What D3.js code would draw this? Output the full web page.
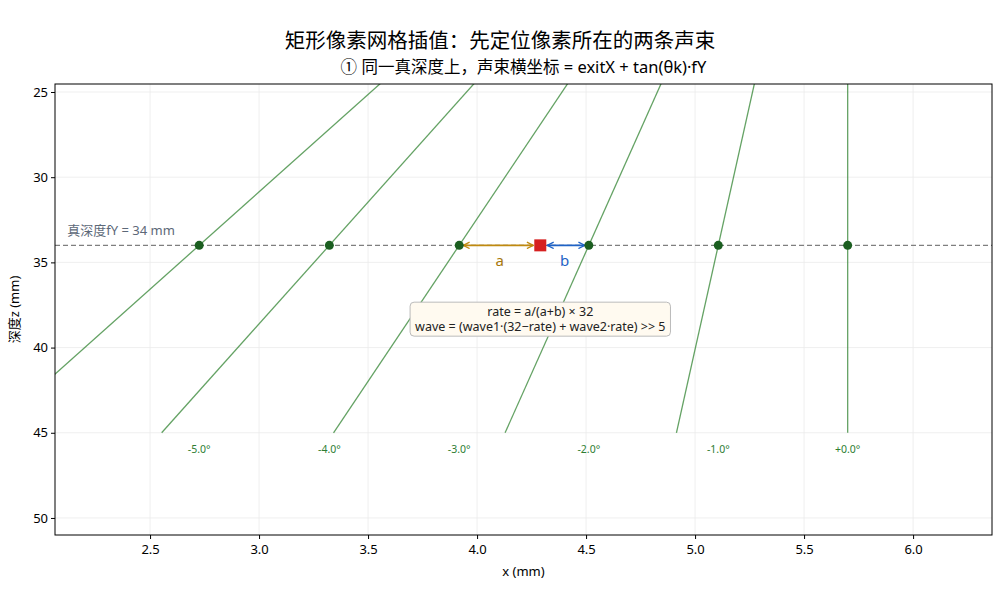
<!DOCTYPE html>
<html>
<head>
<meta charset="utf-8">
<script src="https://cdn.jsdelivr.net/npm/d3@7"></script>
<style>
  body { margin: 0; background: #fff; }
  svg { font-family: "Noto Sans", "Noto Sans CJK SC", sans-serif; }
</style>
</head>
<body>
<svg id="chart"></svg>
<script>
var width = 1000;
var height = 610;

// beam angles (deg) and geometry
var angles = [-5, -4, -3, -2, -1, 0];
var angleLabels = ["-5.0°", "-4.0°", "-3.0°", "-2.0°", "-1.0°", "+0.0°"];
var exitX = 5.7;
var beamZ = [0, 45];
var fY = 34;
var pixelX = 4.29;
var labelZ = 46;
var xTicks = [2.5, 3.0, 3.5, 4.0, 4.5, 5.0, 5.5, 6.0];
var yTicks = [25, 30, 35, 40, 45, 50];
var xDomain = [2.064, 6.362];
var yDomain = [24.53, 51.0];
var boxLines = ["rate = a/(a+b) × 32", "wave = (wave1·(32−rate) + wave2·rate) >> 5"];
var boxPos = [4.29, 38.4];

var margin = { top: 84, right: 8, bottom: 75, left: 55 };

const svg = d3.select('#chart')
    .attr('width', width)
    .attr('height', height);

const x = d3.scaleLinear().domain(xDomain).range([margin.left, width - margin.right]);
const y = d3.scaleLinear().domain(yDomain).range([margin.top, height - margin.bottom]);

function beamX(deg, z) {
    return exitX + Math.tan(deg * Math.PI / 180) * z;
}

svg.append("defs").append("clipPath").attr("id", "clip")
    .append("rect")
    .attr("x", margin.left).attr("y", margin.top)
    .attr("width", width - margin.left - margin.right)
    .attr("height", height - margin.top - margin.bottom);

var defs = svg.select("defs");
function marker(id, color, orient) {
    defs.append("marker")
        .attr("id", id)
        .attr("viewBox", "0 0 10 10")
        .attr("refX", 9).attr("refY", 5)
        .attr("markerWidth", 8).attr("markerHeight", 8)
        .attr("markerUnits", "userSpaceOnUse")
        .attr("orient", orient)
        .append("path")
        .attr("d", "M1,1 L9,5 L1,9")
        .attr("fill", "none")
        .attr("stroke", color)
        .attr("stroke-width", 1.6);
}
marker("arrGold", "#c08a10", "auto-start-reverse");
marker("arrBlue", "#1f63c6", "auto-start-reverse");

// grid
svg.append("g").selectAll("line").data(xTicks).join("line")
    .attr("x1", d => x(d)).attr("x2", d => x(d))
    .attr("y1", margin.top).attr("y2", height - margin.bottom)
    .attr("stroke", "#ebebeb").attr("stroke-width", 0.8);
svg.append("g").selectAll("line").data(yTicks).join("line")
    .attr("y1", d => y(d)).attr("y2", d => y(d))
    .attr("x1", margin.left).attr("x2", width - margin.right)
    .attr("stroke", "#ebebeb").attr("stroke-width", 0.8);

const plot = svg.append("g").attr("clip-path", "url(#clip)");

// beams
plot.selectAll(".beam").data(angles).join("line")
    .attr("class", "beam")
    .attr("x1", d => x(beamX(d, beamZ[0])))
    .attr("y1", y(beamZ[0]))
    .attr("x2", d => x(beamX(d, beamZ[1])))
    .attr("y2", y(beamZ[1]))
    .attr("stroke", "#3d8b3d")
    .attr("stroke-opacity", 0.8)
    .attr("stroke-width", 1.3);

// depth line
plot.append("line")
    .attr("x1", margin.left).attr("x2", width - margin.right)
    .attr("y1", y(fY)).attr("y2", y(fY))
    .attr("stroke", "#7f7f7f")
    .attr("stroke-width", 1.2)
    .attr("stroke-dasharray", "5,3");

plot.append("text")
    .attr("x", x(2.12)).attr("y", y(33.2))
    .attr("dominant-baseline", "middle")
    .attr("font-size", 13)
    .attr("fill", "#5c6878")
    .text("真深度fY = " + fY + " mm");

// arrows a, b
var leftX = beamX(-3, fY), rightX = beamX(-2, fY);
plot.append("line")
    .attr("x1", x(leftX) + 4).attr("x2", x(pixelX) - 7)
    .attr("y1", y(fY)).attr("y2", y(fY))
    .attr("stroke", "#c08a10").attr("stroke-width", 1.6)
    .attr("marker-start", "url(#arrGold)").attr("marker-end", "url(#arrGold)");
plot.append("line")
    .attr("x1", x(pixelX) + 7).attr("x2", x(rightX) - 4)
    .attr("y1", y(fY)).attr("y2", y(fY))
    .attr("stroke", "#1f63c6").attr("stroke-width", 1.6)
    .attr("marker-start", "url(#arrBlue)").attr("marker-end", "url(#arrBlue)");
plot.append("text")
    .attr("x", x((leftX + pixelX) / 2)).attr("y", y(35.0))
    .attr("text-anchor", "middle").attr("dominant-baseline", "middle")
    .attr("font-size", 15).attr("fill", "#a7780c").text("a");
plot.append("text")
    .attr("x", x((rightX + pixelX) / 2)).attr("y", y(35.0))
    .attr("text-anchor", "middle").attr("dominant-baseline", "middle")
    .attr("font-size", 15).attr("fill", "#1f63c6").text("b");

// beam points
plot.selectAll(".pt").data(angles).join("circle")
    .attr("class", "pt")
    .attr("cx", d => x(beamX(d, fY)))
    .attr("cy", y(fY))
    .attr("r", 4.5)
    .attr("fill", "#1b5e20");

// pixel
plot.append("rect")
    .attr("x", x(pixelX) - 6).attr("y", y(fY) - 6)
    .attr("width", 12).attr("height", 12)
    .attr("fill", "#d62020");

// angle labels
plot.selectAll(".albl").data(angles).join("text")
    .attr("class", "albl")
    .attr("x", d => x(beamX(d, fY)))
    .attr("y", y(labelZ))
    .attr("text-anchor", "middle").attr("dominant-baseline", "middle")
    .attr("font-size", 10.5)
    .attr("fill", "#2e7d32")
    .text((d, i) => angleLabels[i]);

// formula box
const box = plot.append("g");
const bt = box.append("text")
    .attr("font-size", 12.5)
    .attr("fill", "#222")
    .attr("text-anchor", "middle");
boxLines.forEach((s, i) => {
    bt.append("tspan")
        .attr("x", x(boxPos[0]))
        .attr("y", y(boxPos[1]) + (i - 0.5) * 15)
        .attr("dominant-baseline", "middle")
        .text(s);
});
const bb = bt.node().getBBox();
box.insert("rect", "text")
    .attr("x", bb.x - 5).attr("y", bb.y - 1)
    .attr("width", bb.width + 10).attr("height", bb.height + 2)
    .attr("rx", 4)
    .attr("fill", "#fffaf0")
    .attr("stroke", "#bbbbbb");

// axes
const xAxis = svg.append("g")
    .attr("transform", `translate(0,${height - margin.bottom})`)
    .call(d3.axisBottom(x).tickValues(xTicks).tickFormat(d3.format(".1f")).tickSize(4));
const yAxis = svg.append("g")
    .attr("transform", `translate(${margin.left},0)`)
    .call(d3.axisLeft(y).tickValues(yTicks).tickSize(4));
[xAxis, yAxis].forEach(a => {
    a.select(".domain").remove();
    a.selectAll("text").attr("font-size", 13).attr("fill", "#000")
        .attr("font-family", "'Noto Sans', sans-serif");
    a.selectAll("line").attr("stroke", "#000");
});
xAxis.selectAll("text").attr("dy", "0.9em");

svg.append("rect")
    .attr("x", margin.left).attr("y", margin.top)
    .attr("width", width - margin.left - margin.right)
    .attr("height", height - margin.top - margin.bottom)
    .attr("fill", "none").attr("stroke", "#000").attr("stroke-width", 1);

// labels
svg.append("text")
    .attr("x", (margin.left + width - margin.right) / 2).attr("y", 573)
    .attr("text-anchor", "middle").attr("dominant-baseline", "middle")
    .attr("font-size", 13).text("x (mm)");
svg.append("text")
    .attr("transform", `translate(16,${(margin.top + height - margin.bottom) / 2}) rotate(-90)`)
    .attr("text-anchor", "middle").attr("dominant-baseline", "middle")
    .attr("font-size", 13).text("深度z (mm)");
svg.append("text")
    .attr("x", width / 2).attr("y", 42)
    .attr("text-anchor", "middle").attr("dominant-baseline", "middle")
    .attr("font-size", 20.5).text("矩形像素网格插值：先定位像素所在的两条声束");
svg.append("text")
    .attr("x", (margin.left + width - margin.right) / 2).attr("y", 69)
    .attr("text-anchor", "middle").attr("dominant-baseline", "middle")
    .attr("font-size", 16.5).text("① 同一真深度上，声束横坐标 = exitX + tan(θk)·fY");
</script>
</body>
</html>
